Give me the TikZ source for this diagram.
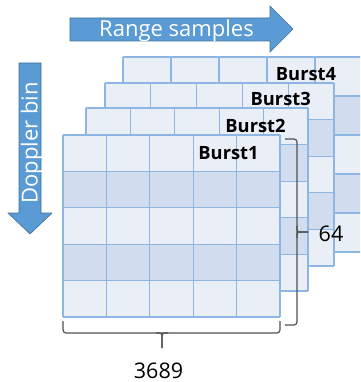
\documentclass[tikz,border=0pt]{standalone}
\usepackage{fontspec}
\setmainfont{Open Sans}
\definecolor{cellL}{RGB}{233,238,247}
\definecolor{cellD}{RGB}{209,220,238}
\definecolor{gridc}{RGB}{141,182,226}
\definecolor{arrowf}{RGB}{91,155,213}
\definecolor{arrowd}{RGB}{65,113,156}
\definecolor{bracec}{RGB}{80,80,80}
\tikzset{
  gridline/.style={draw=gridc,line width=1.2pt},
  bigarrow/.style={fill=arrowf,draw=arrowd,line width=0.6pt},
  arrowtext/.style={text=white,font=\fontsize{22}{22}\selectfont,inner sep=0pt},
  burstlabel/.style={font=\bfseries\fontsize{18.3}{18}\selectfont,inner sep=0pt,anchor=base},
  bracestyle/.style={draw=bracec,line width=1.2pt,rounded corners=3pt},
  numlabel/.style={font=\fontsize{21.5}{21}\selectfont,inner sep=0pt,anchor=base}
}
\newcommand{\mkburst}[4]{% x0 y0 cw rh
  \fill[cellL] (#1,#2) rectangle ++(5*#3,5*#4);
  \fill[cellD] (#1,#2+#4) rectangle ++(5*#3,#4);
  \fill[cellD] (#1,#2+3*#4) rectangle ++(5*#3,#4);
  \foreach \k in {0,...,5}{
    \draw[gridline] (#1+\k*#3,#2) -- (#1+\k*#3,#2+5*#4);
    \draw[gridline] (#1,#2+\k*#4) -- (#1+5*#3,#2+\k*#4);
  }
}
\begin{document}
\begin{tikzpicture}[x=1pt,y=-1pt]
\useasboundingbox (0,0) rectangle (360,382);
\clip (0,0) rectangle (360,382);
% arrows
\draw[bigarrow] (70,18) -- (270,18) -- (270,6) -- (293,29) -- (270,52) -- (270,41) -- (70,41) -- cycle;
\node[arrowtext,anchor=base] (rs) at (176.5,37) {Range samples};
\draw[bigarrow] (19,63) -- (41,63) -- (41,213) -- (52,213) -- (30,234) -- (8,213) -- (19,213) -- cycle;
\node[arrowtext,anchor=base,rotate=90] (db) at (37.5,143) {Doppler bin};
% bursts
\mkburst{123}{57}{48}{39}
\node[burstlabel] (b4) at (306,80.7) {Burst4};
\mkburst{105}{83}{45.8}{36.6}
\node[burstlabel] (b3) at (280.7,106) {Burst3};
\mkburst{86}{108}{44.4}{36.6}
\node[burstlabel] (b2) at (255.5,132.7) {Burst2};
\mkburst{63}{135}{43.4}{36.4}
\node[burstlabel] (b1) at (228.5,159) {Burst1};
% right brace
\draw[bracestyle] (285,139) -- (297,139) -- (297,232) -- (297,325) -- (285,325);
\draw[bracestyle,rounded corners=2.5pt] (297,226) -- (297,232) -- (308,232);
\draw[bracestyle,rounded corners=2.5pt] (297,238) -- (297,232) -- (308,232);
\node[numlabel] (n64) at (331,241) {64};
% bottom brace
\draw[bracestyle] (63,321) -- (63,333) -- (280,333) -- (280,321);
\draw[bracestyle,rounded corners=2.5pt] (156,333) -- (162,333) -- (162,348);
\draw[bracestyle,rounded corners=2.5pt] (168,333) -- (162,333) -- (162,348);
\node[numlabel] (n3689) at (158.5,378) {3689};
\end{tikzpicture}
\end{document}
